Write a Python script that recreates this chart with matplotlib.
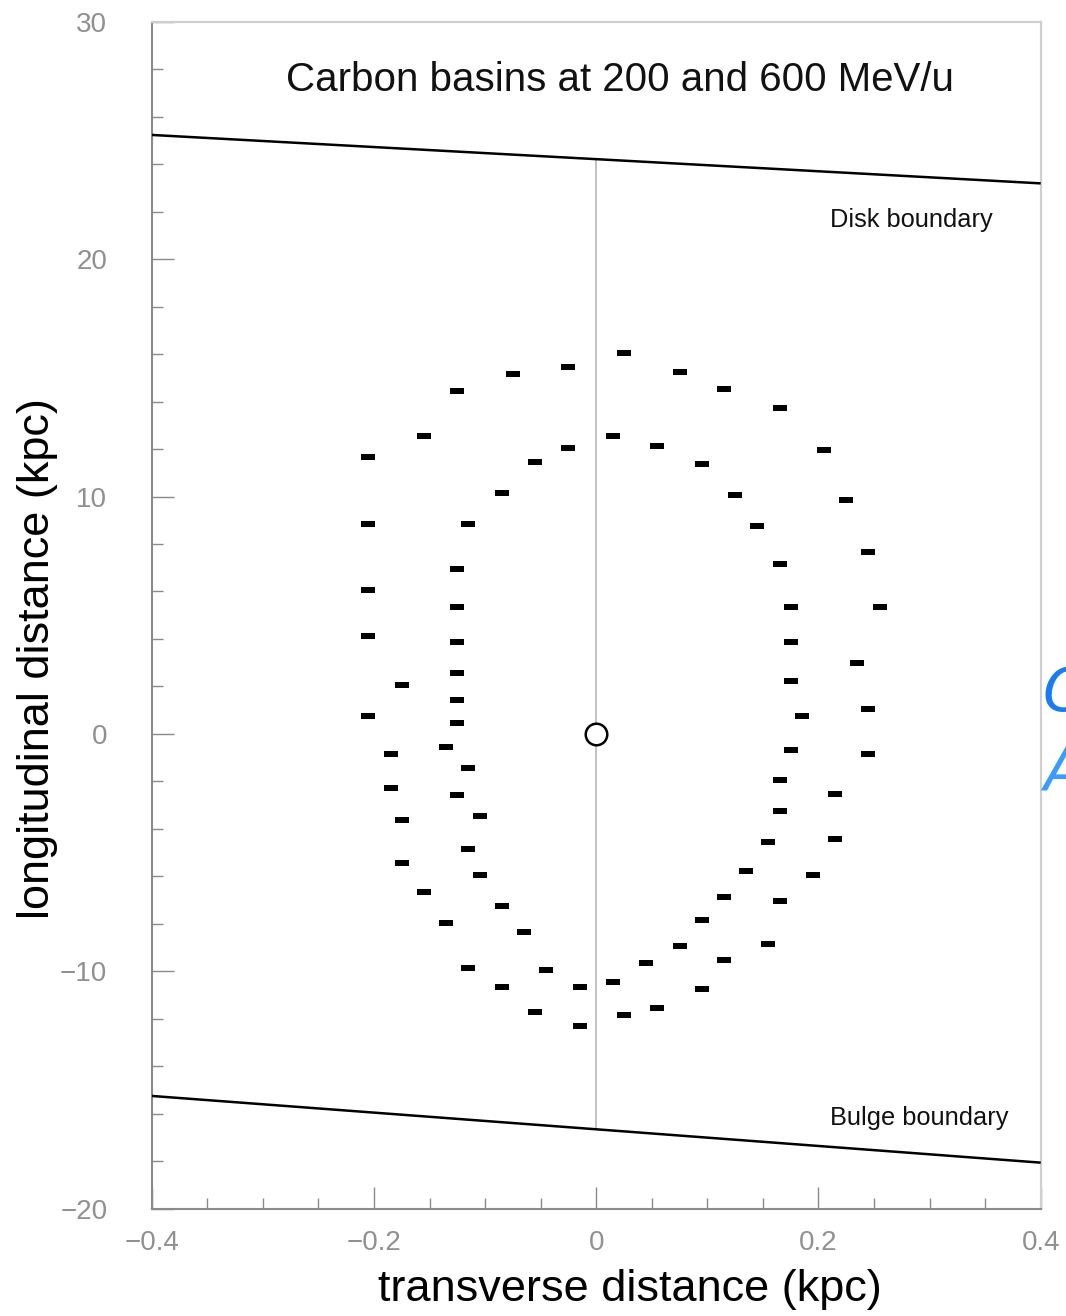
import numpy as np
import matplotlib
matplotlib.use("Agg")
import matplotlib.pyplot as plt
from matplotlib.ticker import MultipleLocator, FixedLocator, FixedFormatter

# ---- data -------------------------------------------------------------
# basin positions, transverse (kpc) and longitudinal (kpc)
inner_x = [-0.025, -0.055, -0.085, -0.115, -0.125, -0.125, -0.125, -0.125, -0.125, -0.125,
           0.015, 0.055, 0.095, 0.125, 0.145, 0.165, 0.175, 0.175, 0.175, 0.185,
           -0.135, -0.115, -0.125, -0.105, -0.115, -0.105, -0.085, -0.065, -0.045, -0.015,
           0.175, 0.165, 0.165, 0.155, 0.135, 0.115, 0.095, 0.075, 0.045, 0.015]
inner_y = [12.06, 11.44, 10.15, 8.84, 6.95, 5.36, 3.86, 2.57, 1.44, 0.45,
           12.55, 12.14, 11.36, 10.08, 8.74, 7.14, 5.36, 3.86, 2.24, 0.75,
           -0.55, -1.45, -2.56, -3.45, -4.86, -5.96, -7.26, -8.36, -9.93, -10.65,
           -0.67, -1.95, -3.25, -4.55, -5.76, -6.86, -7.85, -8.93, -9.65, -10.44]

outer_x = [-0.025, -0.075, -0.125, -0.155, -0.205, -0.205, -0.205, -0.205, -0.175, -0.205,
           0.025, 0.075, 0.115, 0.165, 0.205, 0.225, 0.245, 0.255, 0.235, 0.245,
           -0.185, -0.185, -0.175, -0.175, -0.155, -0.135, -0.115, -0.085, -0.055, -0.015,
           0.245, 0.215, 0.215, 0.195, 0.165, 0.155, 0.115, 0.095, 0.055, 0.025]
outer_y = [15.44, 15.15, 14.46, 12.55, 11.66, 8.85, 6.05, 4.14, 2.06, 0.75,
           16.04, 15.24, 14.54, 13.73, 11.96, 9.84, 7.66, 5.36, 2.97, 1.06,
           -0.83, -2.27, -3.64, -5.45, -6.65, -7.95, -9.85, -10.65, -11.73, -12.32,
           -0.83, -2.54, -4.44, -5.94, -7.04, -8.84, -9.54, -10.76, -11.53, -11.83]

# boundaries (end points at the left and right edges)
boundary_x = [-0.4, 0.4]
disk_y = [25.23, 23.19]
bulge_y = [-15.25, -18.06]

source_xy = (0.0, 0.0)

x_ticks = [-0.4, -0.2, 0.0, 0.2, 0.4]
x_tick_labels = ["\u22120.4", "\u22120.2", "0", "0.2", "0.4"]
y_ticks = [-20, -10, 0, 10, 20, 30]
y_tick_labels = ["\u221220", "\u221210", "0", "10", "20", "30"]

title = "Carbon basins at 200 and 600 MeV/u"

# ---- figure -----------------------------------------------------------
plt.rcParams["font.family"] = ["Liberation Sans", "DejaVu Sans"]

W, H = 1066, 1316
fig = plt.figure(figsize=(W / 100, H / 100), dpi=100)
ax = fig.add_axes([151.7 / W, 1 - 1208.7 / H, 889 / W, 1187 / H])
ax.set_xlim(-0.4, 0.4)
ax.set_ylim(-20, 30)

grey = "#8a8a8a"
for side in ("left", "bottom"):
    ax.spines[side].set_color(grey)
    ax.spines[side].set_linewidth(1.5)
for side in ("top", "right"):
    ax.spines[side].set_color("#cfcfcf")
    ax.spines[side].set_linewidth1 = None
    ax.spines[side].set_linewidth(1.6)

ax.xaxis.set_major_locator(FixedLocator(x_ticks))
ax.xaxis.set_major_formatter(FixedFormatter(x_tick_labels))
ax.xaxis.set_minor_locator(MultipleLocator(0.05))
ax.yaxis.set_major_locator(FixedLocator(y_ticks))
ax.yaxis.set_major_formatter(FixedFormatter(y_tick_labels))
ax.yaxis.set_minor_locator(MultipleLocator(2))

ax.tick_params(which="both", direction="in", color=grey, width=1.0,
               top=False, right=False, labelcolor="#909090", labelsize=20)
ax.tick_params(which="major", length=16)
ax.tick_params(which="minor", length=8)
ax.tick_params(axis="y", which="major", pad=32)
ax.tick_params(axis="x", which="major", pad=15)

# boundaries and the axis through the source
ax.plot(boundary_x, disk_y, color="black", lw=1.8, solid_capstyle="butt", zorder=3)
ax.plot(boundary_x, bulge_y, color="black", lw=1.8, solid_capstyle="butt", zorder=3)
y_top = np.interp(0.0, boundary_x, disk_y)
y_bot = np.interp(0.0, boundary_x, bulge_y)
ax.plot([0.0, 0.0], [y_bot, y_top], color="#b0b0b0", lw=1.1, zorder=1)

# basin markers: short horizontal bars
bar = [(-2.8, -1), (2.8, -1), (2.8, 1), (-2.8, 1), (-2.8, -1)]
ax.plot(inner_x, inner_y, ls="none", marker=bar, ms=10.5, mfc="black", mew=0, zorder=4)
ax.plot(outer_x, outer_y, ls="none", marker=bar, ms=10.5, mfc="black", mew=0, zorder=4)

# source position
ax.plot(*source_xy, ls="none", marker="o", ms=15.5, mfc="white", mec="black", mew=1.8, zorder=5)

# texts
ax.text(0.527, 0.951, title, transform=ax.transAxes, ha="center", va="center",
        fontsize=29, color="#111111")
ax.text(0.763, 0.833, "Disk boundary", transform=ax.transAxes, ha="left", va="center",
        fontsize=18.3, color="#111111")
ax.text(0.763, 0.0764, "Bulge boundary", transform=ax.transAxes, ha="left", va="center",
        fontsize=18.3, color="#111111")

fig.text(629.5 / W, 1 - 1290 / H, "transverse distance (kpc)", ha="center", va="center",
         fontsize=32.5, color="black")
fig.text(38 / W, 1 - 659 / H, "longitudinal distance (kpc)", ha="center", va="center",
         rotation=90, fontsize=32.5, color="black")

# overlay annotation letters at the right edge
fig.text(1042 / W, 1 - 694 / H, "C", ha="left", va="center", fontsize=43,
         style="italic", color="#1a7cf5", family=["DejaVu Sans"])
fig.text(1043 / W, 1 - 772 / H, "A", ha="left", va="center", fontsize=43,
         style="italic", color="#3a9cff", family=["DejaVu Sans"])

fig.savefig("out.png", dpi=100)
